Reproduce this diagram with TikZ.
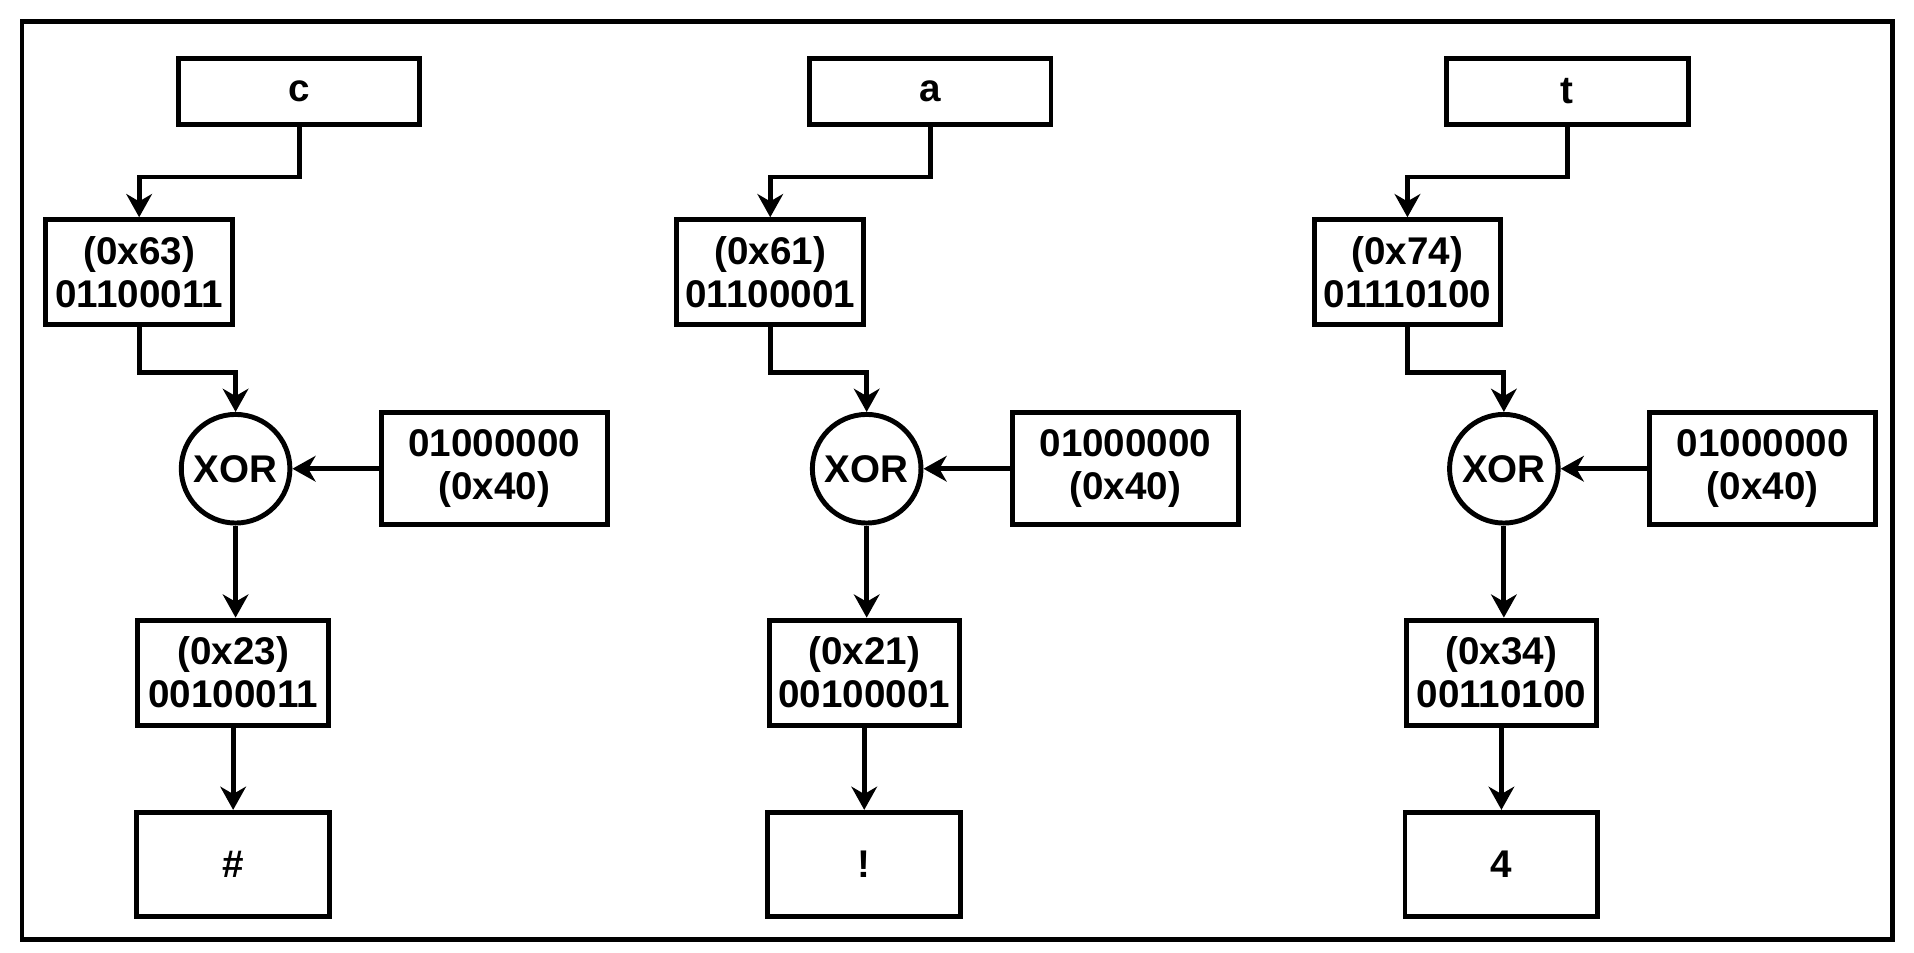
\documentclass[tikz,border=0pt]{standalone}
\usepackage{fontspec}
\setmainfont{Liberation Sans}
\usetikzlibrary{arrows.meta}
\begin{document}
\begin{tikzpicture}[x=0.02cm,y=-0.02cm,line width=2.3pt,
  box/.style={draw,rectangle,inner sep=0pt,align=center,font=\bfseries\fontsize{18}{20}\selectfont},
  xor/.style={draw,circle,inner sep=0pt,minimum size=1.78cm,font=\bfseries\fontsize{18}{20}\selectfont},
  arr/.style={-{Stealth[length=0.38cm,width=0.42cm,inset=0.12cm]}}]
\useasboundingbox (0,0) rectangle (1568,780);
\draw (18,18) rectangle (1550,770);
\foreach \i/\dx/\ch/\hx/\hb/\rx/\rb/\res in {1/0/c/63/01100011/23/00100011/\#, 2/517/a/61/01100001/21/00100001/!, 3/1039/t/74/01110100/34/00110100/4}{
  \node[box,minimum width=3.96cm,minimum height=1.08cm] (top\i) at (245+\dx,75) {\ch};
  \node[box,minimum width=3.06cm,minimum height=1.72cm] (hex\i) at (114+\dx,223) {(0x\hx)\\\hb};
  \node[xor] (x\i) at (193+\dx,384) {XOR};
  \node[box,minimum width=3.7cm,minimum height=1.84cm] (k\i) at (405+\dx,384) {01000000\\(0x40)};
  \node[box,minimum width=3.12cm,minimum height=1.72cm] (r\i) at (191+\dx,551) {(0x\rx)\\\rb};
  \node[box,minimum width=3.16cm,minimum height=1.7cm] (o\i) at (191+\dx,708) {\res};
  \coordinate (a\i) at (245+\dx,145);
  \coordinate (b\i) at (114+\dx,145);
  \coordinate (c\i) at (114+\dx,305);
  \coordinate (d\i) at (193+\dx,305);
  \draw[arr] (top\i.south) -- (a\i) -- (b\i) -- (hex\i.north);
  \draw[arr] (hex\i.south) -- (c\i) -- (d\i) -- (x\i.north);
  \draw[arr] (k\i.west) -- (x\i.east);
  \draw[arr] (x\i.south) -- (x\i.south |- r\i.north);
  \draw[arr] (r\i.south) -- (o\i.north);
}
\end{tikzpicture}
\end{document}
